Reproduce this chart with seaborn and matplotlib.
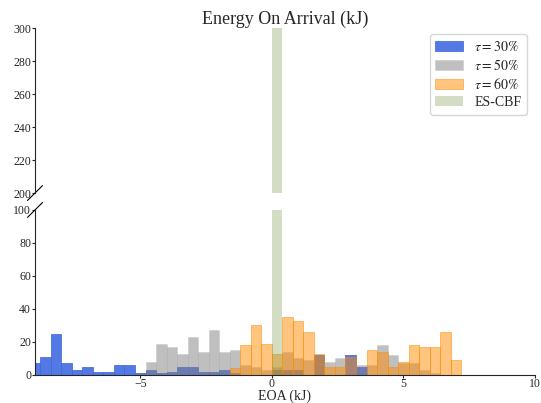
import numpy as np
import pandas as pd
import matplotlib
matplotlib.use("Agg")
import matplotlib.pyplot as plt
import seaborn as sns
from matplotlib.colors import to_rgba

# Histogram counts (bin width 0.4 kJ, bins start at multiples of 0.4)
bin_width = 0.4
bin_edges = [round(v, 2) for v in np.arange(-9.2, 10.0 + 0.001, bin_width)]

tau30_left = [-9.2, -8.8, -8.4, -8.0, -7.6, -7.2, -6.8, -6.4, -6.0, -5.6, -5.2, -4.8, -4.4,
              -4.0, -3.6, -3.2, -2.8, -2.4, -2.0, -1.6, 0.0, 0.4, 0.8, 1.6, 2.8, 3.2]
tau30_count = [7, 11, 25, 7, 3, 5, 2, 2, 6, 6, 1, 3, 1,
               2, 5, 5, 2, 2, 3, 1, 3, 3, 3, 12, 12, 5]

tau50_left = [-5.2, -4.8, -4.4, -4.0, -3.6, -3.2, -2.8, -2.4, -2.0, -1.6, -1.2, -0.8, -0.4,
              0.0, 0.4, 0.8, 1.2, 1.6, 2.0, 2.4, 3.2, 3.6, 4.0, 4.4, 4.8, 5.2, 5.6, 6.0]
tau50_count = [1, 8, 19, 17, 13, 23, 14, 27, 14, 15, 6, 5, 3,
               5, 14, 10, 9, 10, 8, 10, 6, 6, 18, 12, 7, 7, 3, 1]

tau60_left = [-1.6, -1.2, -0.8, -0.4, 0.0, 0.4, 0.8, 1.2, 1.6, 2.0, 2.4, 2.8,
              3.6, 4.0, 4.4, 4.8, 5.2, 5.6, 6.0, 6.4, 6.8]
tau60_count = [4, 18, 30, 19, 13, 35, 33, 26, 13, 5, 5, 11,
               15, 14, 5, 8, 18, 17, 17, 26, 9]

escbf_left = [0.0]
escbf_count = [340]

# label, bins, counts, colour, face alpha, edge alpha
series = [
    (r"$\tau = 30\%$", tau30_left, tau30_count, "royalblue", 0.9, 0.9),
    (r"$\tau = 50\%$", tau50_left, tau50_count, "gray", 0.5, 0.15),
    (r"$\tau = 60\%$", tau60_left, tau60_count, "darkorange", 0.5, 0.6),
    ("ES-CBF", escbf_left, escbf_count, "#7a9a4a", 0.33, 0.0),
]

sns.set_style("ticks")
plt.rcParams["font.family"] = ["Liberation Serif", "DejaVu Serif"]
plt.rcParams["mathtext.fontset"] = "stix"

fig = plt.figure(figsize=(5.41, 4.03), dpi=100)
ax_top = fig.add_axes([0.0647, 0.521, 0.924, 0.4095])
ax_bot = fig.add_axes([0.0647, 0.0695, 0.924, 0.4095])

for ax in (ax_top, ax_bot):
    for label, left, count, color, alpha, ealpha in series:
        df = pd.DataFrame({"EOA": np.array(left) + bin_width / 2, "n": count})
        sns.histplot(data=df, x="EOA", weights="n", bins=bin_edges, color=color,
                     alpha=alpha, edgecolor=to_rgba(color, ealpha), linewidth=0.6,
                     label=label, ax=ax)
    ax.set_xlim(-9, 10)
    ax.tick_params(labelsize=8.5, length=2, width=0.8, pad=0.8)

ax_bot.tick_params(axis="x", pad=0.3)

ax_top.set_ylim(200, 300)
ax_bot.set_ylim(0, 100)
ax_top.set_yticks(range(200, 301, 20))
ax_bot.set_yticks(range(0, 101, 20))
ax_bot.set_xticks([-5, 0, 5, 10])

ax_top.spines["top"].set_visible(False)
ax_top.spines["right"].set_visible(False)
ax_top.spines["bottom"].set_visible(False)
ax_top.tick_params(axis="x", bottom=False, labelbottom=False)
ax_bot.spines["top"].set_visible(False)
ax_bot.spines["right"].set_visible(False)

ax_top.set_ylabel("")
ax_bot.set_ylabel("")
ax_top.set_xlabel("")
ax_bot.set_xlabel("EOA (kJ)", fontsize=10)
ax_bot.xaxis.set_label_coords(0.5, -0.088)
ax_top.set_title("Energy On Arrival (kJ)", fontsize=13, pad=3)

# break marks on the left spine
dx, dy = 0.015, 0.045
ax_top.plot([-dx, dx], [-dy, dy], transform=ax_top.transAxes, color="k", lw=0.8, clip_on=False)
ax_bot.plot([-dx, dx], [1 - dy, 1 + dy], transform=ax_bot.transAxes, color="k", lw=0.8, clip_on=False)

ax_top.legend(loc="upper right", bbox_to_anchor=(0.984, 0.964), borderaxespad=0,
              fontsize=10, labelspacing=0.3, frameon=True)

fig.savefig("out.png", dpi=100)
